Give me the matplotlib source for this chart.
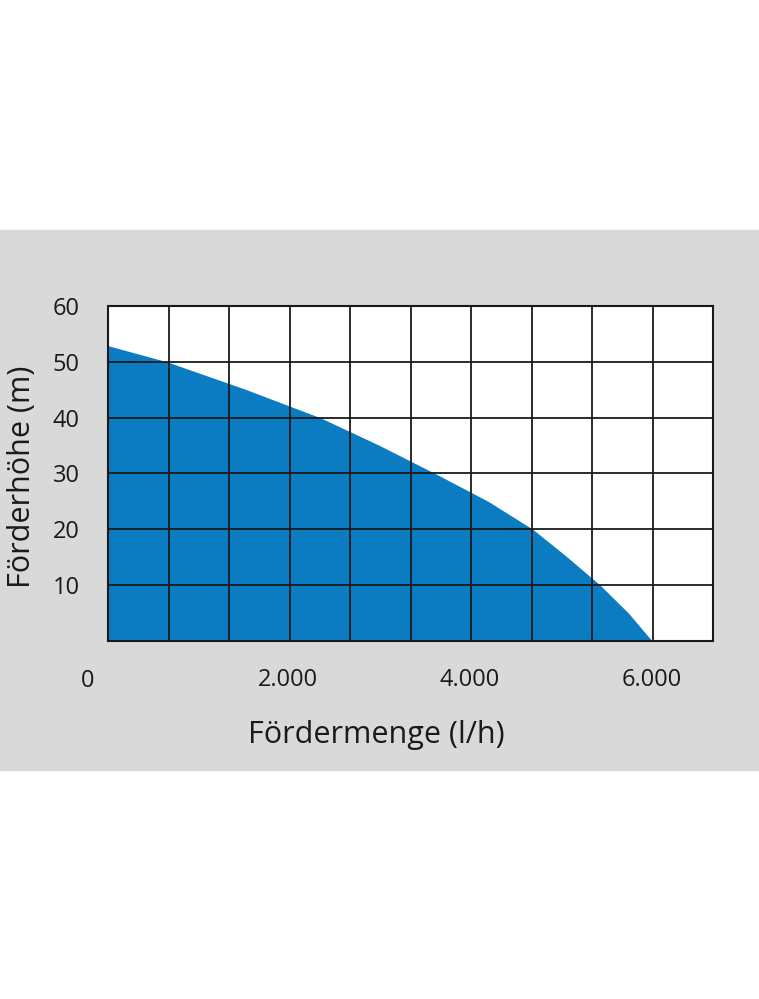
import numpy as np
import matplotlib.pyplot as plt
from matplotlib.patches import Rectangle

plt.rcParams['font.family'] = ['Open Sans', 'DejaVu Sans']

# Kennlinie
menge = [20, 670, 1545, 2352, 3008, 3615, 4200, 4690, 5070, 5429, 5740, 6000]   # l/h
hoehe = [52.9, 50, 45, 40, 35, 30, 25, 20, 15, 10, 5, 0]                        # m

y_ticks = [10, 20, 30, 40, 50, 60]
x_ticks = [2000, 4000, 6000]
x_labels = ['2.000', '4.000', '6.000']

fig = plt.figure(figsize=(7.59, 9.99), dpi=100)
# grauer Hintergrundstreifen
fig.add_artist(Rectangle((0, 0.229), 1, 0.541, transform=fig.transFigure,
                         color='#d9d9d9', zorder=-10))

ax = fig.add_axes([0.1423, 0.3584, 0.7971, 0.3353])
ax.set_zorder(1)
ax.set_facecolor('white')
xmin, xmax = 22, 6670
ax.set_xlim(xmin, xmax)
ax.set_ylim(0, 60)

ax.fill_between(menge, hoehe, 0, color='#0c7cc2', lw=0, zorder=1)

# Raster 10 x 6
for gx in np.linspace(xmin, xmax, 11)[1:-1]:
    ax.axvline(gx, color='#1a1a1a', lw=1.3, zorder=2)
for gy in y_ticks[:-1]:
    ax.axhline(gy, color='#1a1a1a', lw=1.3, zorder=2)
for s in ax.spines.values():
    s.set_color('#1a1a1a')
    s.set_linewidth(1.5)
    s.set_zorder(3)

ax.set_yticks(y_ticks)
ax.set_yticklabels([str(v) for v in y_ticks])
ax.set_xticks(x_ticks)
ax.set_xticklabels(x_labels)
ax.tick_params(length=0, labelsize=17, colors='#1a1a1a')
ax.tick_params(axis='x', pad=28)
ax.tick_params(axis='y', pad=20.5)
ax.text(-198, -0.12, '0', transform=ax.get_xaxis_transform(), ha='center', va='center',
        fontsize=17, color='#1a1a1a', clip_on=False)
for lab in ax.get_xticklabels():
    lab.set_verticalalignment('center')

ax.set_xlabel('Fördermenge (l/h)', fontsize=22, color='#1a1a1a', labelpad=20)
ax.set_ylabel('Förderhöhe (m)', fontsize=22, color='#1a1a1a', labelpad=11)
ax.xaxis.label.set_x(0.443)
ax.yaxis.label.set_y(0.49)

fig.savefig('out.png', dpi=100)
